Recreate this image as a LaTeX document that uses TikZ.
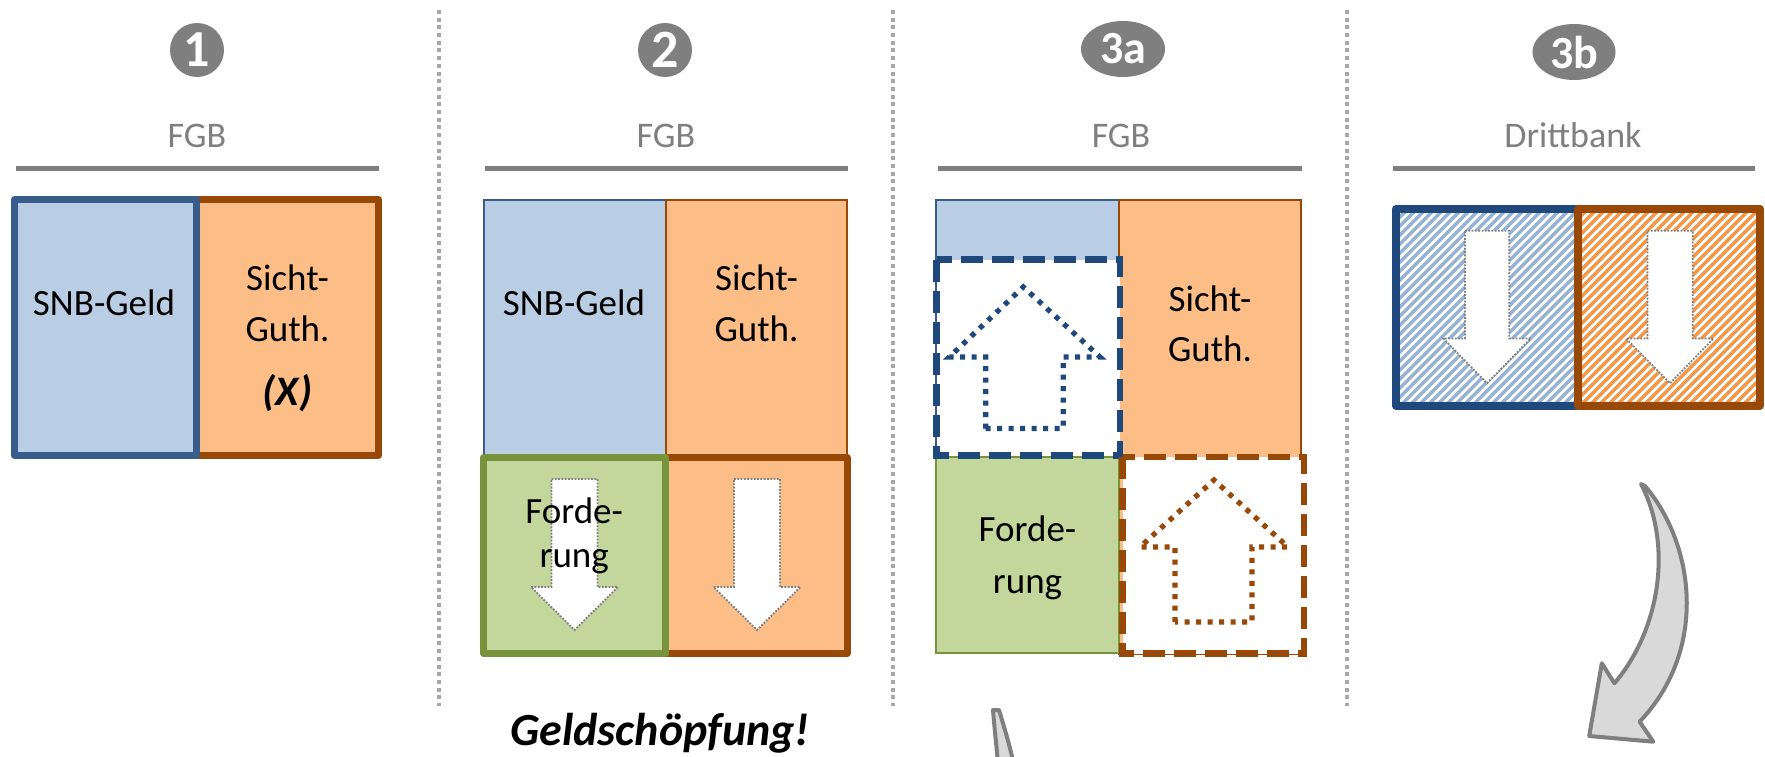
\documentclass[tikz,border=0pt]{standalone}
\usepackage{fontspec}
\setmainfont{Carlito}
\definecolor{grayc}{HTML}{7F7F7F}
\definecolor{sepc}{HTML}{A6A6A6}
\definecolor{bluefill}{HTML}{B9CDE5}
\definecolor{blueline}{HTML}{385D8A}
\definecolor{navy}{HTML}{1F497D}
\definecolor{orangefill}{HTML}{FCBE86}
\definecolor{orangeline}{HTML}{984807}
\definecolor{greenfill}{HTML}{C3D69B}
\definecolor{greenline}{HTML}{77933C}
\definecolor{hatchblue}{HTML}{95B3D7}
\definecolor{hatchorange}{HTML}{F79646}
\definecolor{arrowfill}{HTML}{D9D9D9}
\begin{document}
\begin{tikzpicture}[x=1pt,y=-1pt,
  lbl/.style={inner sep=0pt, anchor=base, font=\fontsize{37}{44}\selectfont},
  hdr/.style={inner sep=0pt, anchor=base, text=grayc, font=\fontsize{36}{44}\selectfont},
  badgetext/.style={inner sep=0pt, text=white, font=\bfseries\fontsize{46}{46}\selectfont},
  sepline/.style={draw=sepc, line width=4pt, dash pattern=on 4pt off 3.7pt},
  ruleline/.style={draw=grayc, line width=5pt},
  thick7/.style={line width=7pt, line join=round},
  thin2/.style={line width=2pt},
  downarrow/.style={fill=white, draw=grayc, line width=1.8pt, dash pattern=on 1.8pt off 1.5pt},
  dashbox/.style={fill=white, line width=6.5pt, dash pattern=on 22pt off 9pt},
  dotarrow/.style={line width=5.2pt, dash pattern=on 5pt off 6.5pt},
  bigarrow/.style={fill=arrowfill, draw=grayc, line width=4pt, line join=round},
  hatchb/.style={draw=hatchblue, line width=3.4pt},
  hatcho/.style={draw=hatchorange, line width=3.4pt}
]
\useasboundingbox (0,0) rectangle (1765,757);

% separators
\draw[sepline] (439,10) -- (439,706);
\draw[sepline] (893,10) -- (893,706);
\draw[sepline] (1347,10) -- (1347,706);

% badges
\fill[grayc] (197,50) circle (27);
\node[badgetext, font=\bfseries\fontsize{52}{52}\selectfont] (b1) at (197,50) {1};
\fill[grayc] (665,50) circle (27);
\node[badgetext, font=\bfseries\fontsize{54}{54}\selectfont] (b2) at (665,50) {2};
\fill[grayc] (1123,49) ellipse (42 and 28);
\node[badgetext] (b3a) at (1123,49) {3a};
\fill[grayc] (1574,52) ellipse (41.5 and 28);
\node[badgetext] (b3b) at (1574,53) {3b};

% headers and rules
\node[hdr] (h1) at (197,148) {FGB};
\node[hdr] (h2) at (666,148) {FGB};
\node[hdr] (h3) at (1121,148) {FGB};
\node[hdr] (h4) at (1573,148) {Drittbank};
\draw[ruleline] (16,169) -- (379,169);
\draw[ruleline] (485,169) -- (848,169);
\draw[ruleline] (938,169) -- (1302,169);
\draw[ruleline] (1393,169) -- (1755,169);

% ---------- panel 1 ----------
\filldraw[fill=orangefill, draw=orangeline, thick7] (196.7,199.5) rectangle (378.5,455.5);
\filldraw[fill=bluefill, draw=blueline, thick7] (14.5,199.5) rectangle (196.7,455.5);
\node[lbl] (p1snb) at (104,315) {SNB-Geld};
\node[lbl] (p1s) at (287.5,290) {Sicht-};
\node[lbl] (p1g) at (287.5,341.7) {Guth.};
\node[lbl, font=\bfseries\itshape\fontsize{42}{44}\selectfont] (p1x) at (287.5,405) {(X)};

% ---------- panel 2 ----------
\filldraw[fill=bluefill, draw=blueline, thin2] (483.5,200) rectangle (666,455);
\filldraw[fill=orangefill, draw=orangeline, thin2] (666,200) rectangle (847,455);
\filldraw[fill=orangefill, draw=orangeline, thick7] (665.7,457.5) rectangle (847,653.5);
\filldraw[fill=greenfill, draw=greenline, thick7] (483.6,457.7) rectangle (665.7,653.5);
\draw[downarrow] (551.5,479) -- (597.5,479) -- (597.5,587) -- (618,587) -- (574.5,630) -- (531,587) -- (551.5,587) -- cycle;
\draw[downarrow] (734,479) -- (780,479) -- (780,587) -- (800.5,587) -- (757,630) -- (713.5,587) -- (734,587) -- cycle;
\node[lbl] (p2snb) at (574,315) {SNB-Geld};
\node[lbl] (p2s) at (756.5,290) {Sicht-};
\node[lbl] (p2g) at (756.5,341.7) {Guth.};
\node[lbl] (p2f) at (574.2,523) {Forde-};
\node[lbl] (p2r) at (574.2,567) {rung};
\node[inner sep=0pt, anchor=base, font=\bfseries\itshape\fontsize{46}{50}\selectfont] (geld) at (660,745) {Geldschöpfung!};

% ---------- panel 3a ----------
\filldraw[fill=bluefill, draw=blueline, thin2] (936,200) rectangle (1119,456);
\filldraw[fill=orangefill, draw=orangeline, thin2] (1119,200) rectangle (1301,653.5);
\filldraw[fill=greenfill, draw=greenline, thin2] (936,456.7) rectangle (1119,653.3);
\filldraw[dashbox, draw=navy] (936.5,259.5) rectangle (1120,455.5);
\filldraw[dashbox, draw=orangeline] (1122.5,457) rectangle (1304,653.5);
\draw[dotarrow, draw=navy] (985.7,428.5) -- (985.7,357) -- (949.3,357) -- (1023.3,287) -- (1100,357) -- (1063.3,357) -- (1063.3,428.5) -- cycle;
\draw[dotarrow, draw=orangeline] (1175,622) -- (1175,547) -- (1140,547) -- (1214,480) -- (1288,547) -- (1252,547) -- (1252,622) -- cycle;
\node[lbl] (p3s) at (1210,311.7) {Sicht-};
\node[lbl] (p3g) at (1210,361.7) {Guth.};
\node[lbl] (p3f) at (1027.5,541.7) {Forde-};
\node[lbl] (p3r) at (1027.5,593) {rung};
\begin{scope}
\clip (900,690) rectangle (1100,757);
\draw[bigarrow] (993,710) -- (999,710) .. controls (1005,730) and (1012,752) .. (1018,785) -- (1000,785) .. controls (998,760) and (995,735) .. cycle;
\end{scope}

% ---------- panel 3b ----------
\begin{scope}
\clip (1395.8,208.9) rectangle (1578,405.5);
\fill[white] (1395.8,208.9) rectangle (1578,405.5);
\foreach \c in {1590,1599,...,2000} \draw[hatchb] (\c-190,190) -- (\c-420,420);
\end{scope}
\begin{scope}
\clip (1578,208.9) rectangle (1760.2,405.5);
\fill[white] (1578,208.9) rectangle (1760.2,405.5);
\foreach \c in {1770,1779,...,2190} \draw[hatcho] (\c-190,190) -- (\c-420,420);
\end{scope}
\draw[navy, line width=8pt, line join=round] (1395.8,208.9) rectangle (1578,405.5);
\draw[orangeline, line width=8pt, line join=round] (1578,208.9) rectangle (1760.2,405.5);
\draw[downarrow] (1465,230.7) -- (1509.3,230.7) -- (1509.3,338.5) -- (1530.7,338.5) -- (1487,383.3) -- (1443.3,338.5) -- (1465,338.5) -- cycle;
\draw[downarrow] (1647.5,230.7) -- (1692.7,230.7) -- (1692.7,338.5) -- (1713.6,338.5) -- (1670,383.3) -- (1626,338.5) -- (1647.5,338.5) -- cycle;
\draw[bigarrow] (1641,484) -- (1645,486) .. controls (1695,545) and (1708,650) .. (1639.6,721.7) -- (1653.3,741.7) -- (1589.2,736) -- (1601.8,663.3) -- (1614.4,683.3) .. controls (1660,630) and (1673,545) .. (1641,484) -- cycle;
\end{tikzpicture}
\end{document}
